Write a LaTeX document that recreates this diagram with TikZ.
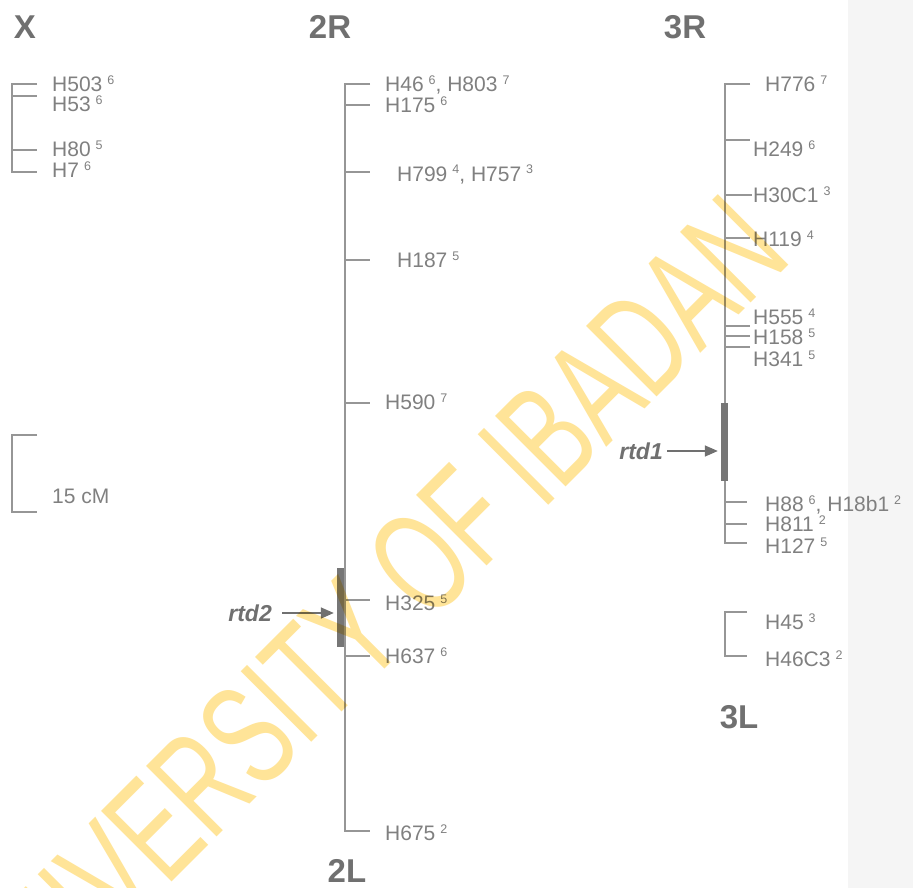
\documentclass[tikz,border=0pt]{standalone}
\usepackage{fontspec}
\setmainfont{Liberation Sans}
\usetikzlibrary{arrows.meta}
\definecolor{lblc}{RGB}{128,128,128}
\definecolor{ttlc}{RGB}{112,112,112}
\definecolor{linec}{RGB}{150,150,150}
\definecolor{barc}{RGB}{118,118,118}
\definecolor{bandc}{RGB}{245,245,245}
\definecolor{wmc}{RGB}{255,228,152}
\newcommand\spx[1]{\hspace{5pt}{\fontsize{12.5}{12.5}\selectfont\raisebox{7pt}{#1}}}
\begin{document}
\begin{tikzpicture}[x=1pt,y=-1pt,
  lbl/.style={anchor=base west,inner sep=0pt,text=lblc,font=\fontsize{21}{24}\selectfont},
  ttl/.style={anchor=center,inner sep=0pt,text=ttlc,font=\fontsize{33}{36}\selectfont\bfseries},
  chrom/.style={draw=linec,line width=1.5pt},
  barbox/.style={fill=barc,draw=none,inner sep=0pt,minimum width=7pt},
  rtdlbl/.style={anchor=east,inner sep=0pt,text=ttlc,font=\fontsize{23}{26}\selectfont\bfseries\itshape},
  ptr/.style={draw=ttlc,line width=1.5pt,-{Triangle[length=13pt,width=11pt]}}]
\fill[white] (0,0) rectangle (913,888);
\fill[bandc] (848,0) rectangle (913,888);
\useasboundingbox (0,0) rectangle (913,888);

% titles
\node[ttl] (tX) at (25,27) {X};
\node[ttl] (t2R) at (330,27) {2R};
\node[ttl] (t3R) at (685,27) {3R};
\node[ttl] (t3L) at (739,717) {3L};
\node[ttl] (t2L) at (347,871) {2L};

% X chromosome
\draw[chrom] (37,84) -- (12,84) -- (12,172) -- (37,172);
\draw[chrom] (12,96) -- (37,96);
\draw[chrom] (12,150) -- (37,150);
\node[lbl] (h503) at (52,91.5) {H503\spx{6}};
\node[lbl] (h53) at (52,111.5) {H53\spx{6}};
\node[lbl] (h80) at (52,157) {H80\spx{5}};
\node[lbl] (h7) at (52,178) {H7\spx{6}};

% scale bar
\draw[chrom] (37,435) -- (12,435) -- (12,512) -- (37,512);
\node[lbl] (scale) at (52,503) {15 cM};

% chromosome 2
\draw[chrom] (370,84) -- (345,84) -- (345,831) -- (370,831);
\foreach \yy in {105,172,260,403,600,656}{\draw[chrom] (345,\yy) -- (370,\yy);}
\node[lbl] (h46) at (385,91.5) {H46\spx{6}, H803\spx{7}};
\node[lbl] (h175) at (385,113) {H175\spx{6}};
\node[lbl] (h799) at (397,181) {H799\spx{4}, H757\spx{3}};
\node[lbl] (h187) at (397,267.5) {H187\spx{5}};
\node[lbl] (h590) at (385,409.5) {H590\spx{7}};
\node[lbl] (h325) at (385,610) {H325\spx{5}};
\node[lbl] (h637) at (385,663) {H637\spx{6}};
\node[lbl] (h675) at (385,840) {H675\spx{2}};
\node[barbox,minimum height=79pt] (bar2) at (340.5,607.5) {};
\node[rtdlbl] (rtd2) at (272,613) {rtd2};
\draw[ptr] ([xshift=10pt]rtd2.east) -- ([xshift=-3pt]rtd2.east -| bar2.west);

% chromosome 3
\draw[chrom] (750,84) -- (725,84) -- (725,543) -- (747,543);
\foreach \yy in {140,238,326,336,347}{\draw[chrom] (725,\yy) -- (750,\yy);}
\draw[chrom] (725,195) -- (752,195);
\foreach \yy in {502,524}{\draw[chrom] (725,\yy) -- (747,\yy);}
\node[lbl] (h776) at (765,91.5) {H776\spx{7}};
\node[lbl] (h249) at (753,156.5) {H249\spx{6}};
\node[lbl] (h30c1) at (753,202.5) {H30C1\spx{3}};
\node[lbl] (h119) at (753,246.5) {H119\spx{4}};
\node[lbl] (h555) at (753,324.5) {H555\spx{4}};
\node[lbl] (h158) at (753,344.5) {H158\spx{5}};
\node[lbl] (h341) at (753,366.5) {H341\spx{5}};
\node[lbl] (h88) at (765,511.5) {H88\spx{6}, H18b1\spx{2}};
\node[lbl] (h811) at (765,531.5) {H811\spx{2}};
\node[lbl] (h127) at (765,553.5) {H127\spx{5}};
\node[barbox,minimum height=78pt] (bar1) at (724.5,442) {};
\node[rtdlbl] (rtd1) at (663,451) {rtd1};
\draw[ptr] ([xshift=4pt]rtd1.east) -- ([xshift=-3pt]rtd1.east -| bar1.west);

% 3L segment
\draw[chrom] (747,612) -- (725,612) -- (725,656) -- (747,656);
\node[lbl] (h45) at (765,629.5) {H45\spx{3}};
\node[lbl] (h46c3) at (765,666.5) {H46C3\spx{2}};

% watermark
\begin{scope}[blend mode=multiply]
\node[rotate=45,text=wmc,inner sep=0pt] (wm) at (364,619) {\fontsize{145}{145}\selectfont\scalebox{0.66}[1]{UNIVERSITY OF IBADAN}};
\end{scope}
\end{tikzpicture}
\end{document}
